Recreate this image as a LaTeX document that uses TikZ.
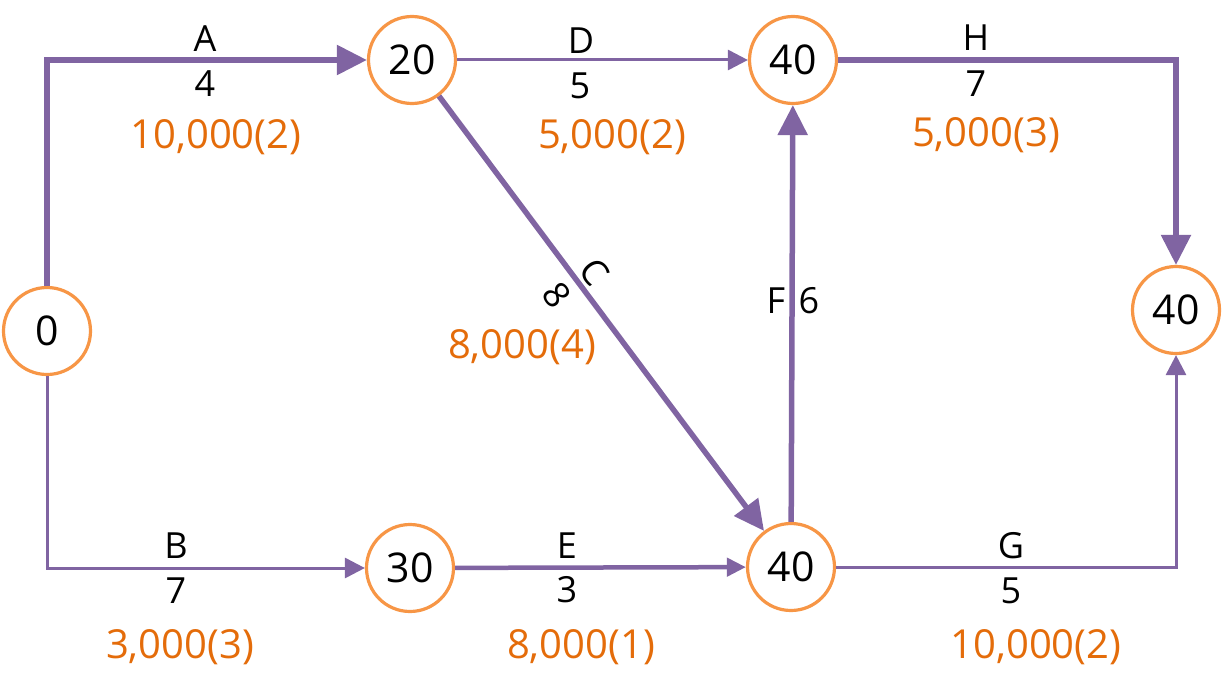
\documentclass[tikz,border=0pt]{standalone}
\usepackage{fontspec}
\setmainfont{Open Sans}
\usetikzlibrary{arrows.meta}
\definecolor{pur}{RGB}{128,100,162}
\definecolor{orb}{RGB}{247,150,70}
\definecolor{ort}{RGB}{228,108,10}
\begin{document}
\begin{tikzpicture}[x=1pt,y=-1pt,
  ev/.style={circle,draw=orb,line width=3.2pt,fill=white,minimum size=87pt,inner sep=0pt,font=\fontsize{41}{48}\selectfont},
  lab/.style={inner sep=0pt,anchor=base,font=\fontsize{36}{42}\selectfont},
  cost/.style={inner sep=0pt,anchor=base,text=ort,font=\fontsize{40}{46}\selectfont},
  thickarc/.style={draw=pur,line width=5.5pt,-{Triangle[length=30pt,width=29pt]}},
  midarc/.style={draw=pur,line width=4.5pt,-{Triangle[length=19pt,width=18pt]}},
  thinarc/.style={draw=pur,line width=3pt,-{Triangle[length=20pt,width=20pt]}}
]
\useasboundingbox (0,0) rectangle (1225,693);
% events
\node[ev] (n0) at (47,331) {0};
\node[ev] (n20) at (412,60) {20};
\node[ev] (n40t) at (793,60) {40};
\node[ev] (nR) at (1176,310) {40};
\node[ev] (n30) at (410,568) {30};
\node[ev] (n40b) at (791,567) {40};
% activities
\draw[thickarc] (n0.north) |- (n20.west);
\draw[thinarc] (n0.south) |- (n30.west);
\draw[thickarc] (n20) -- (n40b);
\draw[thinarc] (n20) -- (n40t);
\draw[midarc] (n30) -- (n40b);
\draw[thickarc] (n40b) -- (n40t);
\draw[thinarc] (n40b.east) -| (nR.south);
\draw[thickarc] (n40t.east) -| (nR.north);
% labels A
\node[lab] (lA) at (205,52) {A};
\node[lab] (dA) at (205,96) {4};
\node[cost] (cA) at (216,148) {10,000(2)};
% D
\node[lab] (lD) at (581,53) {D};
\node[lab] (dD) at (580,98) {5};
\node[cost] (cD) at (612,148) {5,000(2)};
% H
\node[lab] (lH) at (976,51) {H};
\node[lab] (dH) at (976,96) {7};
\node[cost] (cH) at (986,146) {5,000(3)};
% C
\node[inner sep=0pt,font=\fontsize{36}{42}\selectfont,rotate=-53.2] (lC) at (595,272) {C};
\node[inner sep=0pt,font=\fontsize{36}{42}\selectfont,rotate=-53.2] (dC) at (557,295) {8};
\node[cost] (cC) at (522,358) {8,000(4)};
% F
\node[lab] (lF) at (776,313) {F};
\node[lab] (dF) at (809,313) {6};
% B
\node[lab] (lB) at (176,558) {B};
\node[lab] (dB) at (176,603) {7};
\node[cost] (cB) at (180,658) {3,000(3)};
% E
\node[lab] (lE) at (567,558) {E};
\node[lab] (dE) at (567,602) {3};
\node[cost] (cE) at (581,658) {8,000(1)};
% G
\node[lab] (lG) at (1011,558) {G};
\node[lab] (dG) at (1011,603) {5};
\node[cost] (cG) at (1036,658) {10,000(2)};
\end{tikzpicture}
\end{document}
